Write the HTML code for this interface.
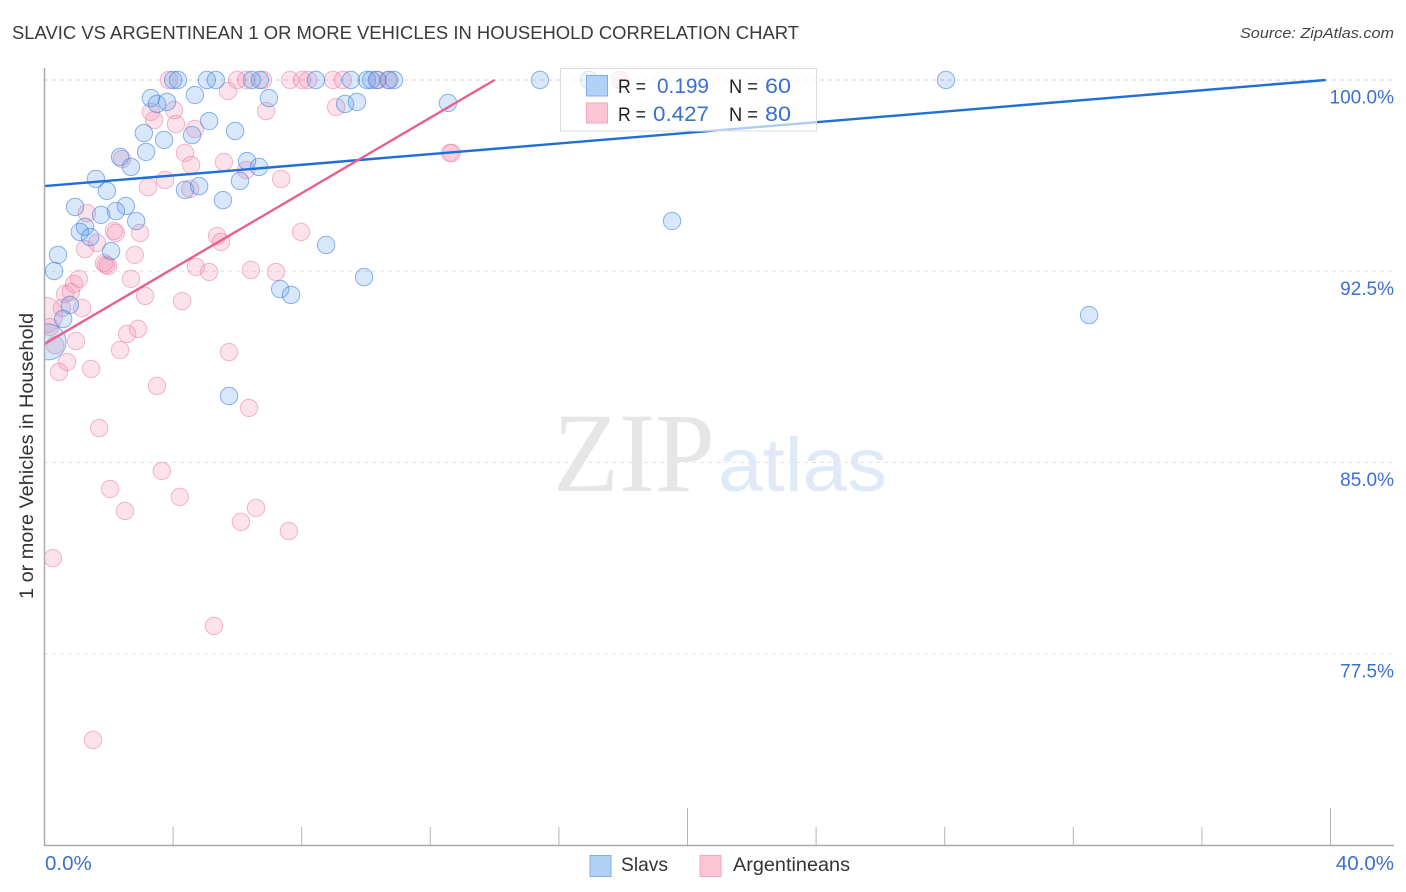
<!DOCTYPE html>
<html lang="en">
<head>
<meta charset="utf-8">
<title>Slavic vs Argentinean 1 or more Vehicles in Household Correlation Chart</title>
<style>
html,body{margin:0;padding:0;background:#fff;}
svg{display:block;font-family:"Liberation Sans",sans-serif;}
</style>
</head>
<body>
<svg id="chart" xmlns="http://www.w3.org/2000/svg" width="1406" height="892" viewBox="0 0 1406 892">
  <defs><clipPath id="plot-clip"><rect x="45" y="60" width="1349" height="785"/></clipPath></defs>
  <text x="12" y="39" font-size="18.5" fill="#3a3a3a" textLength="787" lengthAdjust="spacingAndGlyphs">SLAVIC VS ARGENTINEAN 1 OR MORE VEHICLES IN HOUSEHOLD CORRELATION CHART</text>
  <text x="1394" y="38" font-size="15" font-style="italic" fill="#444" text-anchor="end" textLength="154" lengthAdjust="spacingAndGlyphs">Source: ZipAtlas.com</text>

  <g id="grid"></g>

  <g>
    <text x="553" y="491" font-family="'Liberation Serif',serif" font-size="113" fill="#e6e6e6" textLength="162" lengthAdjust="spacingAndGlyphs">ZIP</text>
    <text x="718" y="491" font-size="76" fill="#dfe9f7" textLength="169" lengthAdjust="spacingAndGlyphs">atlas</text>
  </g>

  <g id="points" clip-path="url(#plot-clip)"></g>
  <g id="trends"></g>
  <g id="axes"></g>

  <text transform="translate(33 456) rotate(-90)" font-size="19.5" fill="#333" text-anchor="middle" textLength="286" lengthAdjust="spacingAndGlyphs">1 or more Vehicles in Household</text>

  <g>
    <rect x="560.5" y="68.5" width="256" height="62.5" fill="#fff" fill-opacity="0.65" stroke="#ddd" stroke-width="1"/>
    <rect x="586.5" y="75.5" width="21" height="20.5" fill="#b3d0f7" stroke="#82ade6" stroke-width="1"/>
    <rect x="586.5" y="103" width="21" height="20" fill="#fcc5d6" stroke="#f2a5bd" stroke-width="1"/>
    <text x="618" y="93" font-size="19.5" fill="#222" textLength="28" lengthAdjust="spacingAndGlyphs">R =</text>
    <text x="657" y="93" font-size="21" fill="#3b6fd0" textLength="52" lengthAdjust="spacingAndGlyphs">0.199</text>
    <text x="729" y="93" font-size="19.5" fill="#222" textLength="29" lengthAdjust="spacingAndGlyphs">N =</text>
    <text x="765" y="93" font-size="21" fill="#3b6fd0" textLength="26" lengthAdjust="spacingAndGlyphs">60</text>
    <text x="618" y="121" font-size="19.5" fill="#222" textLength="28" lengthAdjust="spacingAndGlyphs">R =</text>
    <text x="653" y="121" font-size="21" fill="#3b6fd0" textLength="56" lengthAdjust="spacingAndGlyphs">0.427</text>
    <text x="729" y="121" font-size="19.5" fill="#222" textLength="29" lengthAdjust="spacingAndGlyphs">N =</text>
    <text x="765" y="121" font-size="21" fill="#3b6fd0" textLength="26" lengthAdjust="spacingAndGlyphs">80</text>
  </g>

  <g>
    <rect x="590" y="855.5" width="21" height="21" fill="#b3d0f7" stroke="#82ade6" stroke-width="1"/>
    <text x="621" y="871" font-size="19.5" fill="#333" textLength="47" lengthAdjust="spacingAndGlyphs">Slavs</text>
    <rect x="700" y="855.5" width="21" height="21" fill="#fcc5d6" stroke="#f2a5bd" stroke-width="1"/>
    <text x="733" y="871" font-size="19.5" fill="#333" textLength="117" lengthAdjust="spacingAndGlyphs">Argentineans</text>
  </g>
</svg>

<script>
var slavX = [4.0,4.15,5.05,5.33,6.45,6.7,8.44,9.53,10.03,10.16,10.34,10.72,10.87,15.41,16.94,28.04,3.31,3.5,3.81,4.68,5.12,6.98,9.35,9.72,12.55,3.09,4.59,3.72,5.93,3.16,2.35,2.69,6.3,6.67,6.08,1.6,1.94,4.37,4.81,5.55,0.95,2.53,2.22,1.76,2.85,1.26,1.1,1.42,0.42,0.3,2.07,8.76,9.94,19.52,7.33,7.67,32.49,0.79,0.58,5.74];
var slavY = [100,100,100,100,100,100,100,100,100,100,100,100,100,100,100,100,99.29,99.06,99.14,99.41,98.39,99.29,99.06,99.14,99.1,97.92,97.84,97.65,98.0,97.18,96.98,96.59,96.82,96.59,96.04,96.12,95.65,95.69,95.84,95.29,95.02,95.06,94.86,94.71,94.47,94.24,94.04,93.84,93.14,92.51,93.29,93.53,92.27,94.47,91.8,91.57,90.78,91.18,90.63,87.61];
var slavLargeX = [0.11];
var slavLargeY = [89.73];
var argX = [3.87,5.99,6.27,6.8,7.64,8.01,8.2,8.97,9.28,10.37,10.68,17.9,5.71,6.89,9.07,3.31,3.41,4.03,4.09,4.68,4.37,4.56,5.58,6.27,7.36,3.75,3.22,4.53,2.41,1.32,2.16,2.22,2.97,2.81,5.37,5.49,7.98,1.63,1.26,1.85,1.91,1.98,2.69,4.71,5.12,6.42,7.2,1.07,0.92,0.64,0.82,1.17,3.13,4.28,0.54,0.17,0.33,0.98,2.91,2.57,2.35,0.7,0.45,1.45,5.74,3.5,6.36,1.7,3.65,2.04,2.5,4.21,6.58,6.11,7.6,0.26,5.27,1.51,12.61,12.67];
var argY = [100,100,100,100,100,100,100,100,100,100,100,100,99.57,98.78,98.94,98.75,98.43,98.82,98.27,98.08,97.14,96.67,96.78,96.47,96.12,96.08,95.8,95.73,96.9,94.78,94.08,94.0,94.0,93.14,93.88,93.65,94.04,93.61,93.37,92.82,92.75,92.71,92.2,92.67,92.47,92.55,92.47,92.2,92.0,91.61,91.69,91.06,91.53,91.33,91.06,90.31,89.6,89.76,90.24,90.04,89.41,88.94,88.55,88.67,89.33,88.0,87.14,86.35,84.67,83.96,83.1,83.65,83.22,82.67,82.31,81.25,78.59,74.12,97.14,97.14];
var argLargeX = [0.0];
var argLargeY = [90.78];
var slavTrendX = [0, 39.85];
var slavTrendY = [95.84, 100];
var argTrendX = [0, 14.0];
var argTrendY = [89.65, 100];
var yTickValues = [100, 92.5, 85, 77.5];
var yTickLabels = ["100.0%", "92.5%", "85.0%", "77.5%"];
var xTickValues = [0, 4, 8, 12, 16, 20, 24, 28, 32, 36, 40];
var xEndLabels = ["0.0%", "40.0%"];

var SVG_NS = "http://www.w3.org/2000/svg";
function xScale(v) { return 44.5 + v * 32.15; }
function yScale(v) { return 80 + (100 - v) * 25.5; }
function make(tag, attrs, parent) {
  var el = document.createElementNS(SVG_NS, tag);
  for (var k in attrs) { el.setAttribute(k, attrs[k]); }
  parent.appendChild(el);
  return el;
}

var gridLayer = document.getElementById("grid");
var axesLayer = document.getElementById("axes");
var pointLayer = document.getElementById("points");
var trendLayer = document.getElementById("trends");

yTickValues.forEach(function (v, i) {
  var line = make("line", {x1: 44, x2: 1394, y1: yScale(v), y2: yScale(v), stroke: i === 0 ? "#d0d0d0" : "#e4e4e4", "stroke-width": 1, "stroke-dasharray": "4 4"}, gridLayer);
  
  
  var label = make("text", {x: 1394, y: yScale(v) + 23.5, "font-size": 19, fill: "#3b6fd0", "text-anchor": "end"}, axesLayer);
  label.textContent = yTickLabels[i];
  
  
});

var yAxis = make("line", {x1: 44.5, x2: 44.5, y1: 68, y2: 846, stroke: "#aaa", "stroke-width": 1.5}, axesLayer);


var xAxis = make("line", {x1: 44, x2: 1394, y1: 845.5, y2: 845.5, stroke: "#aaa", "stroke-width": 1.5}, axesLayer);



xTickValues.forEach(function (v) {
  if (v === 0) { return; }
  var major = (v === 20 || v === 40);
  var tick = make("line", {x1: xScale(v), x2: xScale(v), y1: major ? 808 : 827, y2: 845, stroke: "#b5b5b5", "stroke-width": 1}, axesLayer);
  
  
});

var xStart = make("text", {x: 45, y: 870, "font-size": 20.5, fill: "#3b6fd0"}, axesLayer);
xStart.textContent = xEndLabels[0];


var xEnd = make("text", {x: 1394, y: 870, "font-size": 20.5, fill: "#3b6fd0", "text-anchor": "end"}, axesLayer);
xEnd.textContent = xEndLabels[1];



function drawArgPoints(xs, ys, r) {
  xs.forEach(function (v, i) {
    var c = make("circle", {cx: xScale(v), cy: yScale(ys[i]), r: r, fill: "#f590b2", "fill-opacity": 0.26, stroke: "#ea7fa3", "stroke-opacity": 0.55, "stroke-width": 1}, pointLayer);
    
    
  });
}
function drawSlavPoints(xs, ys, r) {
  xs.forEach(function (v, i) {
    var c = make("circle", {cx: xScale(v), cy: yScale(ys[i]), r: r, fill: "#6aa3ec", "fill-opacity": 0.26, stroke: "#3f83e0", "stroke-opacity": 0.6, "stroke-width": 1}, pointLayer);
    
    
  });
}
drawArgPoints(argLargeX, argLargeY, 18);
drawArgPoints(argX, argY, 8.7);
drawSlavPoints(slavLargeX, slavLargeY, 18);
drawSlavPoints(slavX, slavY, 8.7);

var slavLine = make("line", {x1: xScale(slavTrendX[0]), y1: yScale(slavTrendY[0]), x2: xScale(slavTrendX[1]), y2: yScale(slavTrendY[1]), stroke: "#1f6fd6", "stroke-width": 2.4}, trendLayer);


var argLine = make("line", {x1: xScale(argTrendX[0]), y1: yScale(argTrendY[0]), x2: xScale(argTrendX[1]), y2: yScale(argTrendY[1]), stroke: "#e8608f", "stroke-width": 2.4}, trendLayer);


</script>
</body>
</html>
